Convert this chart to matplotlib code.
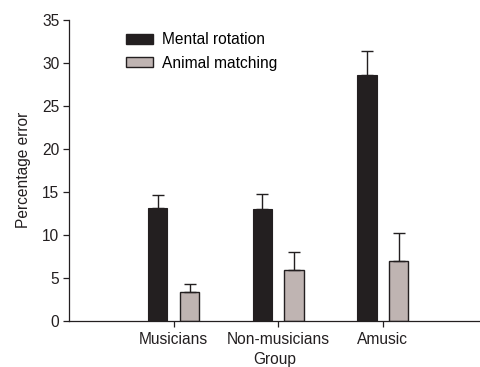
import numpy as np
import matplotlib.pyplot as plt
from matplotlib.patches import Patch

plt.rcParams['font.family'] = ['Liberation Sans', 'DejaVu Sans']

# ------------------- Data -------------------
groups = ["Musicians", "Non-musicians", "Amusic"]
mental_rotation = [13.1, 13.0, 28.6]
mental_rotation_err = [1.5, 1.7, 2.8]
animal_matching = [3.35, 5.95, 6.9]
animal_matching_err = [0.9, 2.0, 3.3]

# ------------------- Plot -------------------
fs = 11.2
fig = plt.figure(figsize=(4.8, 3.67), dpi=100)
ax = fig.add_axes([0.144, 0.126, 0.856, 0.82])

x = np.arange(1, len(groups) + 1)
width = 0.185
offset = 0.152
dark = "#231f20"
light = "#bfb4b2"

ax.bar(x - offset, mental_rotation, width, color=dark, edgecolor=dark, linewidth=0.8,
       yerr=[np.zeros(3), mental_rotation_err], capsize=4.5,
       error_kw=dict(ecolor=dark, elinewidth=1.0, capthick=1.0), zorder=2)
ax.bar(x + offset, animal_matching, width, color=light, edgecolor=dark, linewidth=1.0,
       yerr=[np.zeros(3), animal_matching_err], capsize=4.5,
       error_kw=dict(ecolor=dark, elinewidth=1.0, capthick=1.0), zorder=2)

ax.set_xlim(0, 3.93)
ax.set_ylim(0, 35)
ax.set_yticks(np.arange(0, 36, 5))
ax.set_xticks(x)
ax.set_xticklabels(groups)
ax.tick_params(axis='both', direction='out', labelsize=fs, colors=dark, width=0.9)
ax.tick_params(axis='y', length=4, pad=3)
ax.tick_params(axis='x', length=4, pad=4)
ax.spines['top'].set_visible(False)
ax.spines['right'].set_visible(False)
for s in ('left', 'bottom'):
    ax.spines[s].set_linewidth(0.9)
    ax.spines[s].set_color(dark)

ax.set_ylabel("Percentage error", fontsize=fs, color=dark, labelpad=8)
ax.set_xlabel("Group", fontsize=fs, color=dark, labelpad=4)

handles = [Patch(facecolor=dark, edgecolor=dark, label="Mental rotation"),
           Patch(facecolor=light, edgecolor=dark, label="Animal matching")]
ax.legend(handles=handles, loc='upper left', bbox_to_anchor=(0.139, 0.958),
          frameon=False, fontsize=fs, handlelength=1.75, handleheight=0.65,
          handletextpad=0.55, labelspacing=0.52, borderpad=0, borderaxespad=0)

plt.savefig("out.png", dpi=100)
